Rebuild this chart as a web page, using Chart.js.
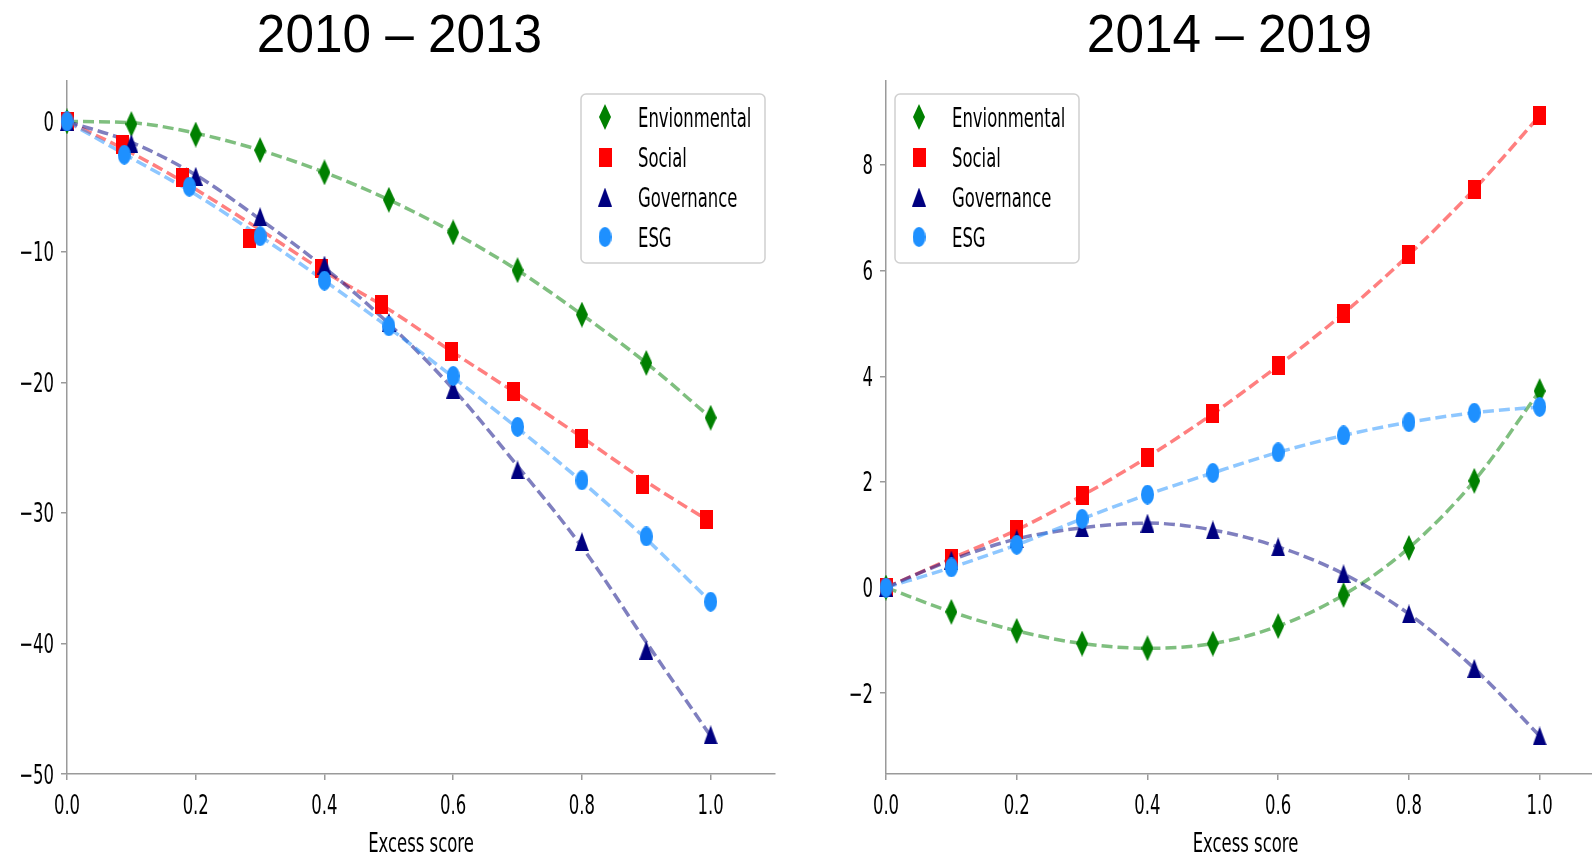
<!DOCTYPE html>
<html>
<head>
<meta charset="utf-8">
<title>Excess score response, 2010 – 2013 and 2014 – 2019</title>
<script src="https://cdn.jsdelivr.net/npm/chart.js@4.4.1/dist/chart.umd.min.js"></script>
<style>
  html, body { margin: 0; padding: 0; background: #ffffff; overflow: hidden; width: 1592px; height: 856px; }
  #early { position: absolute; left: 0; top: 0; }
  #late { position: absolute; left: 796px; top: 0; }
</style>
</head>
<body>
<canvas id="early" width="796" height="856"></canvas>
<canvas id="late" width="820" height="856"></canvas>
<script>
// ---- data -------------------------------------------------------------
const seriesNames = ['Envionmental', 'Social', 'Governance', 'ESG'];
const xTicks = [0, 0.2, 0.4, 0.6, 0.8, 1.0];
const lineX = [0, 0.1, 0.2, 0.3, 0.4, 0.5, 0.6, 0.7, 0.8, 0.9, 1.0];
const xTitle = 'Excess score';

// 2010 – 2013
const earlyTitle = '2010 – 2013';
const earlyYTicks = [-50, -40, -30, -20, -10, 0];
const earlyEnvX = [0, 0.1, 0.2, 0.3, 0.4, 0.5, 0.6, 0.7, 0.8, 0.9, 1.0];
const earlyEnv = [0, -0.2, -1.0, -2.2, -3.9, -6.0, -8.5, -11.4, -14.8, -18.5, -22.7];
const earlySocX = [0, 0.086, 0.18, 0.284, 0.395, 0.489, 0.597, 0.693, 0.799, 0.894, 0.994];
const earlySoc = [0, -1.8, -4.3, -9.0, -11.3, -14.0, -17.6, -20.7, -24.3, -27.8, -30.5];
const earlyGovX = [0, 0.1, 0.2, 0.3, 0.4, 0.5, 0.6, 0.7, 0.8, 0.9, 1.0];
const earlyGov = [0, -1.7, -4.2, -7.3, -11.0, -15.4, -20.5, -26.7, -32.2, -40.5, -47.0];
const earlyEsgX = [0, 0.089, 0.19, 0.3, 0.4, 0.5, 0.6, 0.7, 0.8, 0.9, 1.0];
const earlyEsg = [0, -2.55, -5.0, -8.8, -12.2, -15.7, -19.5, -23.4, -27.5, -31.8, -36.8];
// dashed trend curves, sampled at lineX
const earlyEnvTrend = [0, -0.1, -0.9, -2.2, -3.9, -6.0, -8.5, -11.4, -14.8, -18.5, -22.7];
const earlySocTrend = [0, -2.4, -5.2, -8.3, -11.5, -14.4, -17.7, -20.9, -24.2, -27.6, -30.7];
const earlyGovTrend = [0, -1.6, -4.1, -7.5, -11.2, -15.5, -20.5, -26.4, -32.6, -39.9, -47.1];
const earlyEsgTrend = [0, -2.8, -5.6, -8.8, -12.2, -15.8, -19.6, -23.5, -27.6, -32.0, -36.8];

// 2014 – 2019
const lateTitle = '2014 – 2019';
const lateYTicks = [-2, 0, 2, 4, 6, 8];
const lateEnv = [0, -0.46, -0.82, -1.06, -1.15, -1.06, -0.73, -0.14, 0.75, 2.02, 3.72];
const lateSoc = [0, 0.55, 1.09, 1.74, 2.47, 3.29, 4.20, 5.19, 6.30, 7.54, 8.93];
const lateGov = [0, 0.52, 0.92, 1.13, 1.22, 1.09, 0.77, 0.26, -0.50, -1.53, -2.81];
const lateEsg = [0, 0.38, 0.81, 1.30, 1.76, 2.17, 2.56, 2.88, 3.13, 3.31, 3.42];

// ---- styling ----------------------------------------------------------
const axisGray = '#9a9a9a';
const textFont = '27px "DejaVu Sans"';
const squeeze = 0.61;
const markerColors = ['#008000', '#ff0000', '#000080', '#1e90ff'];
const lineColors = ['rgba(0,128,0,0.5)', 'rgba(255,0,0,0.5)', 'rgba(0,0,128,0.5)', 'rgba(30,144,255,0.5)'];

function markerCanvas(kind, color) {
  const dims = { diamond: [12, 26], square: [13, 19], triangle: [14, 19], ellipse: [13, 20] };
  const [w, h] = dims[kind];
  const c = document.createElement('canvas');
  c.width = w; c.height = h;
  const g = c.getContext('2d');
  g.fillStyle = color;
  g.beginPath();
  if (kind === 'diamond') {
    g.moveTo(w / 2, 0); g.lineTo(w, h / 2); g.lineTo(w / 2, h); g.lineTo(0, h / 2);
  } else if (kind === 'square') {
    g.rect(0, 0, w, h);
  } else if (kind === 'triangle') {
    g.moveTo(w / 2, 0); g.lineTo(w, h); g.lineTo(0, h);
  } else {
    g.ellipse(w / 2, h / 2, w / 2, h / 2, 0, 0, Math.PI * 2);
  }
  g.closePath();
  g.fill();
  return c;
}
const markers = [
  markerCanvas('diamond', markerColors[0]),
  markerCanvas('square', markerColors[1]),
  markerCanvas('triangle', markerColors[2]),
  markerCanvas('ellipse', markerColors[3])
];

function fmtInt(v) { return v < 0 ? '\u2212' + Math.abs(v) : String(v); }

// text drawn with a horizontal squeeze, anchored at (x, y)
function squeezedText(ctx, text, x, y, align, f) {
  ctx.save();
  ctx.translate(x, y);
  ctx.scale(f, 1);
  ctx.textAlign = align;
  ctx.textBaseline = 'alphabetic';
  ctx.fillText(text, 0, 0);
  ctx.restore();
}

function panelText(p) {
  return {
    id: 'panelText',
    afterDraw(chart) {
      const ctx = chart.ctx;
      const xs = chart.scales.x, ys = chart.scales.y, area = chart.chartArea;
      ctx.save();
      ctx.fillStyle = '#000000';
      ctx.font = textFont;
      xTicks.forEach(v => squeezedText(ctx, v.toFixed(1), xs.getPixelForValue(v), 814, 'center', squeeze));
      p.yTicks.forEach(v => squeezedText(ctx, fmtInt(v), area.left - 13, ys.getPixelForValue(v) + 9.5, 'right', squeeze));
      squeezedText(ctx, xTitle, (area.left + area.right) / 2, 852, 'center', squeeze);

      ctx.font = '54px "Liberation Sans"';
      squeezedText(ctx, p.title, p.titleX, 52, 'center', 0.95);

      // legend
      const L = p.legend;
      ctx.beginPath();
      ctx.roundRect(L.x, L.y, 184, 169, 5);
      ctx.fillStyle = 'rgba(255,255,255,0.85)';
      ctx.fill();
      ctx.lineWidth = 1.5;
      ctx.strokeStyle = '#d0d0d0';
      ctx.stroke();
      ctx.fillStyle = '#000000';
      ctx.font = textFont;
      seriesNames.forEach((name, i) => {
        const cy = L.y + 23 + 40 * i;
        const m = markers[i];
        ctx.drawImage(m, L.x + 24 - m.width / 2, cy - m.height / 2);
        squeezedText(ctx, name, L.x + 57, cy + 9.5, 'left', squeeze);
      });
      ctx.restore();
    }
  };
}

function makePanel(canvasId, p) {
  const datasets = [];
  p.series.forEach((s, i) => {
    datasets.push({
      label: seriesNames[i] + ' trend',
      data: lineX.map((x, j) => ({ x: x, y: s.trend[j] })),
      showLine: true,
      borderColor: lineColors[i],
      borderWidth: 3.5,
      borderDash: [11, 5],
      pointRadius: 0,
      cubicInterpolationMode: 'monotone',
      fill: false,
      clip: false,
      order: 10 - i
    });
    datasets.push({
      label: seriesNames[i],
      data: s.x.map((x, j) => ({ x: x, y: s.y[j] })),
      showLine: false,
      pointStyle: markers[i],
      pointRadius: 8,
      backgroundColor: markerColors[i],
      borderColor: markerColors[i],
      clip: false,
      order: 4 - i
    });
  });

  const axisCommon = {
    type: 'linear',
    ticks: { display: false },
    grid: { display: true, drawOnChartArea: false, drawTicks: true, tickLength: 6, color: axisGray, lineWidth: 1.5 },
    border: { display: true, color: axisGray, width: 1.5 }
  };

  return new Chart(document.getElementById(canvasId), {
    type: 'scatter',
    data: { datasets: datasets },
    options: {
      responsive: false,
      devicePixelRatio: 1,
      animation: false,
      events: [],
      layout: { padding: { top: 81, right: p.padRight, bottom: 0, left: 0 } },
      plugins: { legend: { display: false }, tooltip: { enabled: false }, title: { display: false } },
      scales: {
        x: Object.assign({}, axisCommon, {
          min: 0, max: 1.1,
          afterBuildTicks: sc => { sc.ticks = xTicks.map(v => ({ value: v })); },
          afterFit: sc => { sc.height = 82; }
        }),
        y: Object.assign({}, axisCommon, {
          min: p.yMin, max: p.yMax,
          afterBuildTicks: sc => { sc.ticks = p.yTicks.map(v => ({ value: v })); },
          afterFit: sc => { sc.width = p.yAxisWidth; }
        })
      }
    },
    plugins: [panelText(p)]
  });
}

makePanel('early', {
  title: earlyTitle, titleX: 399.5,
  yTicks: earlyYTicks, yMin: -50, yMax: 3.1,
  yAxisWidth: 67, padRight: 21,
  legend: { x: 581, y: 94 },
  series: [
    { x: earlyEnvX, y: earlyEnv, trend: earlyEnvTrend },
    { x: earlySocX, y: earlySoc, trend: earlySocTrend },
    { x: earlyGovX, y: earlyGov, trend: earlyGovTrend },
    { x: earlyEsgX, y: earlyEsg, trend: earlyEsgTrend }
  ]
});

makePanel('late', {
  title: lateTitle, titleX: 433.5,
  yTicks: lateYTicks, yMin: -3.53, yMax: 9.59,
  yAxisWidth: 90, padRight: 11,
  legend: { x: 99, y: 94 },
  series: [
    { x: lineX, y: lateEnv, trend: lateEnv },
    { x: lineX, y: lateSoc, trend: lateSoc },
    { x: lineX, y: lateGov, trend: lateGov },
    { x: lineX, y: lateEsg, trend: lateEsg }
  ]
});
</script>
</body>
</html>
